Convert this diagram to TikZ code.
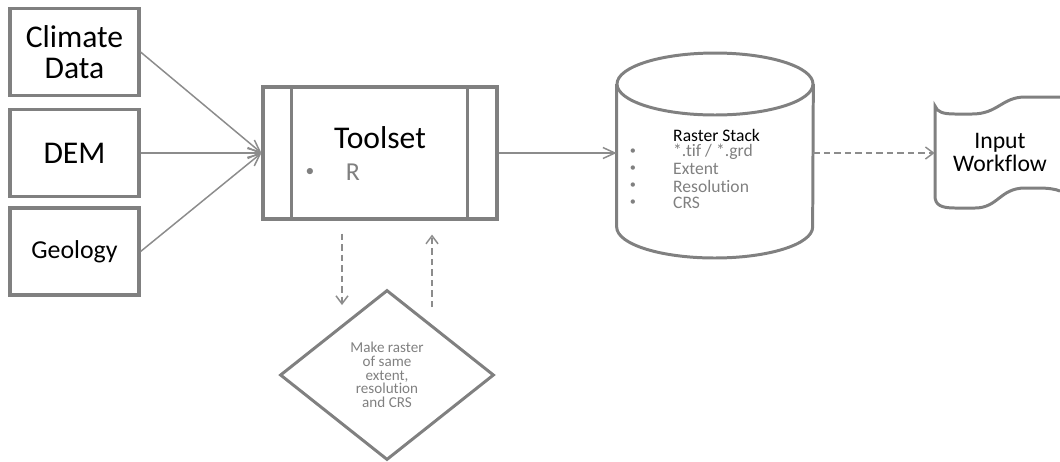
\documentclass[tikz,border=0pt]{standalone}
\usepackage{fontspec}
\setmainfont[Ligatures=NoCommon]{Carlito}
\usetikzlibrary{arrows.meta}
\usetikzlibrary{shapes.geometric}
\definecolor{linegray}{RGB}{128,128,128}
\definecolor{arrowgray}{RGB}{140,140,140}
\definecolor{textgray}{RGB}{128,128,128}

\begin{document}
\begin{tikzpicture}[x=0.02cm, y=0.02cm,
        databox/.style={draw=linegray, line width=1.8pt, minimum width=2.58cm,
          minimum height=1.74cm, inner sep=0pt, align=center},
        outline/.style={draw=linegray, line width=1.7pt},
        flowline/.style={draw=arrowgray, line width=0.85pt,
          -{Straight Barb[length=0.24cm, width=0.22cm]}},
        loopline/.style={draw=arrowgray, line width=0.85pt,
          dash pattern=on 0.13cm off 0.08cm,
          -{Straight Barb[length=0.16cm, width=0.24cm]}},
        bigfont/.style={font=\fontsize{18}{17.6}\selectfont},
        midfont/.style={font=\fontsize{14.7}{14}\selectfont},
        flowfont/.style={font=\fontsize{13.5}{13}\selectfont},
        smallfont/.style={font=\fontsize{10}{9.6}\selectfont},
        tinyfont/.style={font=\fontsize{8.6}{7.8}\selectfont},
        grayish/.style={text=textgray}
      ]
        \useasboundingbox (0,0) rectangle (1060,-461);

        \node[databox, bigfont] (climate) at (74.5,-52) {Climate\\Data};
        \node[databox, bigfont] (dem) at (74.5,-153) {DEM};
        \node[databox, midfont] (geology) at (74.5,-251.5) {Geology};

        \node[databox, minimum width=4.68cm, minimum height=2.64cm] (toolset) at (380,-153) {};
        \draw[outline, line width=1.8pt] ([xshift=0.6cm]toolset.north west) -- ([xshift=0.6cm]toolset.south west);
        \draw[outline, line width=1.8pt] ([xshift=-0.62cm]toolset.north east) -- ([xshift=-0.62cm]toolset.south east);
        \node[bigfont] (tooltitle) at (380,-138) {Toolset};
        \node[smallfont, grayish] (tooldot) at (310,-172) {\textbullet};
        \node[midfont, grayish] (toolr) at (353,-172) {R};

        \node[diamond, outline, minimum width=4.28cm, minimum height=3.4cm, inner sep=0pt,
          align=center, tinyfont, grayish] (samegrid) at (387,-375)
          {Make raster\\of same\\extent,\\resolution\\and CRS};

        \node[minimum width=3.92cm, minimum height=4.1cm, inner sep=0pt] (stack) at (715,-155.5) {};
        \draw[outline] (stack.west |- 0,-84) -- (stack.west |- 0,-227)
          arc[start angle=180, end angle=360, x radius=1.96cm, y radius=0.62cm]
          -- (stack.east |- 0,-84);
        \draw[outline] (715,-84) ellipse [x radius=1.96cm, y radius=0.62cm];
        \node[smallfont, anchor=west] (stacktitle) at (667,-135) {Raster Stack};
        \foreach \item [count=\i] in {*.tif / *.grd, Extent, Resolution, CRS} {
          \node[font=\fontsize{7}{7}\selectfont, grayish] (dot\i) at (633,-135-17*\i) {\textbullet};
          \node[smallfont, grayish, anchor=west] (item\i) at (667,-135-17*\i) {\item};
        }

        \node[minimum width=2.6cm, minimum height=2.22cm, inner sep=0pt, flowfont,
          align=center] (workflow) at (1000,-152.5) {Input\\Workflow};
        \draw[outline] (1060,-97) -- (1025,-97)
          .. controls (1002,-97) and (998,-114) .. (972,-114)
          -- (955,-114) .. controls (943,-114) and (937,-112) .. (935,-106)
          -- (935,-196) .. controls (935,-205) and (941,-208) .. (955,-208)
          -- (975,-208) .. controls (998,-208) and (1000,-188) .. (1025,-188)
          -- (1038,-188) .. controls (1048,-188) and (1055,-189) .. (1060,-191);

        \draw[flowline] (climate.east) -- (toolset.west);
        \draw[flowline] (dem.east) -- (toolset.west);
        \draw[flowline] (geology.east) -- (toolset.west);
        \draw[flowline] (toolset.east) -- (toolset.east -| stack.west);

        \coordinate (downend) at (342,-305);
        \coordinate (upstart) at (432,-307);
        \draw[loopline, shorten <=0.26cm] (toolset.south -| downend) -- (downend);
        \draw[loopline, shorten >=0.28cm] (upstart) -- (upstart |- toolset.south);

        \draw[loopline] (stack.east |- toolset.east) -- (stack.east |- toolset.east -| workflow.west);
      \end{tikzpicture}
\end{document}
